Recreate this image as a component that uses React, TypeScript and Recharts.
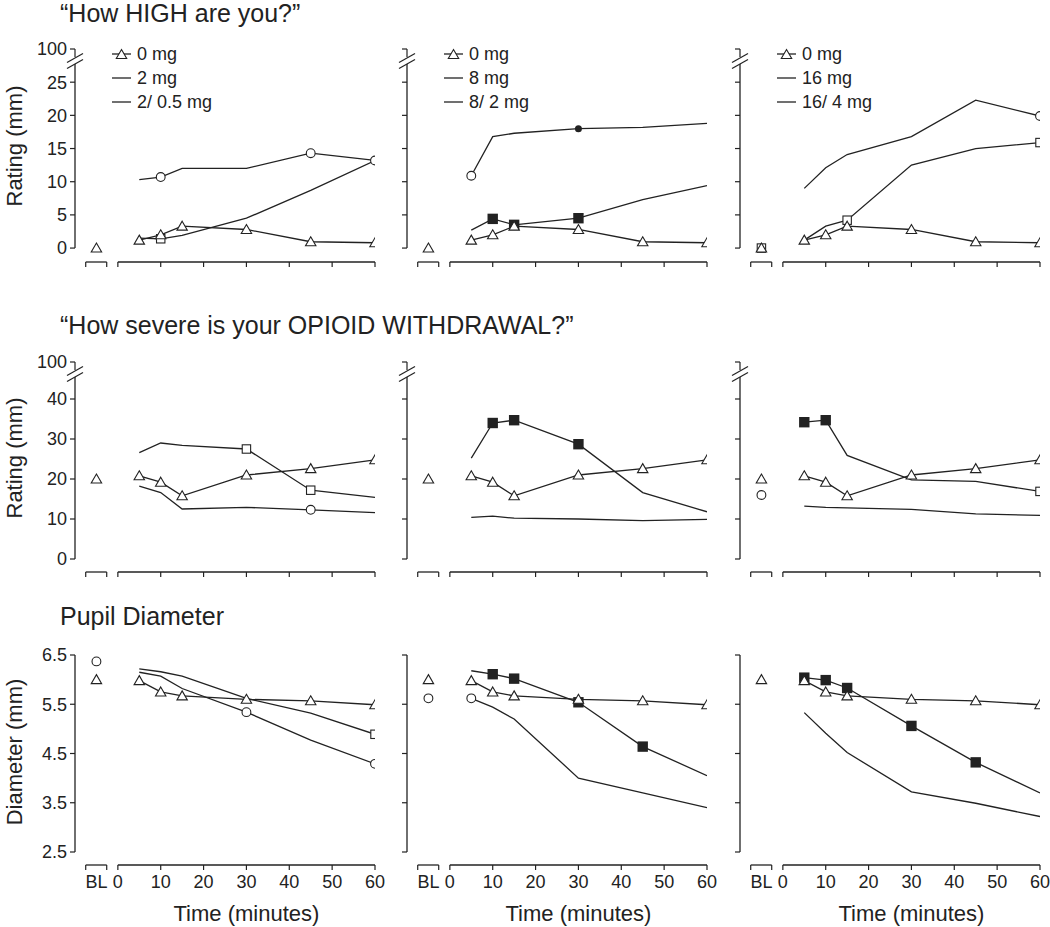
import React from 'react';
import { LineChart, Line, XAxis, YAxis, ReferenceLine, ReferenceDot, Legend } from 'recharts';

const FONT = '"Liberation Sans", Arial, Helvetica, sans-serif';
const INK = '#222';

// minutes after dosing; BL = pre-dose baseline
const times = [5, 10, 15, 30, 45, 60];
const BL = -5;
const xTicks = [-7.5, -5, -2.6, 0, 10, 20, 30, 40, 50, 60];

const monoLabels = ['2 mg', '8 mg', '16 mg'];
const comboLabels = ['2/ 0.5 mg', '8/ 2 mg', '16/ 4 mg'];

// "How HIGH are you?" (mm)
const highPlacebo = [1.2, 2.0, 3.3, 2.8, 0.95, 0.8];
const highMono2 = [10.3, 10.7, 12.0, 12.0, 14.3, 13.2];
const highCombo2 = [1.5, 1.4, 1.9, 4.5, 8.7, 13.2];
const highMono8 = [10.9, 16.8, 17.3, 18.0, 18.2, 18.8];
const highCombo8 = [2.7, 4.4, 3.5, 4.5, 7.3, 9.4];
const highMono16 = [9.0, 12.1, 14.1, 16.8, 22.3, 19.9];
const highCombo16 = [1.2, 3.3, 4.2, 12.5, 15.0, 15.9];
const highMono2Marks = ['', 'o', '', '', 'o', 'o'];
const highCombo2Marks = ['', 's', '', '', '', ''];
const highMono8Marks = ['o', '', '', 'O', '', ''];
const highCombo8Marks = ['', 'S', 'S', 'S', '', ''];
const highMono16Marks = ['', '', '', '', '', 'o'];
const highCombo16Marks = ['', '', 's', '', '', 's'];
const highBLPlacebo = [0, 0, 0];
const highBLMono = [null, null, null];
const highBLCombo = [null, null, 0];

// "How severe is your OPIOID WITHDRAWAL?" (mm)
const wdPlacebo = [20.8, 19.2, 15.8, 21.0, 22.6, 24.8];
const wdMono2 = [18.2, 16.6, 12.5, 12.9, 12.3, 11.6];
const wdCombo2 = [26.6, 29.0, 28.4, 27.5, 17.2, 15.4];
const wdMono8 = [10.4, 10.7, 10.2, 10.0, 9.6, 9.9];
const wdCombo8 = [25.2, 34.0, 34.7, 28.7, 16.6, 11.8];
const wdMono16 = [13.2, 12.9, 12.8, 12.4, 11.3, 10.9];
const wdCombo16 = [34.2, 34.7, 25.9, 19.8, 19.4, 16.9];
const wdMono2Marks = ['', '', '', '', 'o', ''];
const wdCombo2Marks = ['', '', '', 's', 's', ''];
const wdMono8Marks = ['', '', '', '', '', ''];
const wdCombo8Marks = ['', 'S', 'S', 'S', '', ''];
const wdMono16Marks = ['', '', '', '', '', ''];
const wdCombo16Marks = ['S', 'S', '', '', '', 's'];
const wdBLPlacebo = [20, 20, 20];
const wdBLMono = [null, null, 16];
const wdBLCombo = [null, null, null];

// Pupil diameter (mm)
const pupilPlacebo = [5.98, 5.75, 5.67, 5.6, 5.57, 5.49];
const pupilMono2 = [6.15, 6.07, 5.82, 5.34, 4.77, 4.29];
const pupilCombo2 = [6.22, 6.16, 6.07, 5.62, 5.32, 4.89];
const pupilMono8 = [5.62, 5.44, 5.2, 4.0, 3.7, 3.4];
const pupilCombo8 = [6.18, 6.11, 6.02, 5.54, 4.64, 4.05];
const pupilMono16 = [5.33, 4.91, 4.52, 3.72, 3.49, 3.22];
const pupilCombo16 = [6.04, 5.99, 5.83, 5.06, 4.32, 3.7];
const pupilMono2Marks = ['', '', '', 'o', '', 'o'];
const pupilCombo2Marks = ['', '', '', '', '', 's'];
const pupilMono8Marks = ['o', '', '', '', '', ''];
const pupilCombo8Marks = ['', 'S', 'S', 'S', 'S', ''];
const pupilMono16Marks = ['', '', '', '', '', ''];
const pupilCombo16Marks = ['S', 'S', 'S', 'S', 'S', ''];
const pupilBLPlacebo = [6.0, 6.0, 6.0];
const pupilBLMono = [6.37, 5.62, null];
const pupilBLCombo = [null, null, null];

const ROWS = [
  {
    title: '\u201CHow HIGH are you?\u201D', yLabel: 'Rating (mm)', titleY: 22, labelY: 146,
    domain: [-2.1, 30], ticks: [0, 5, 10, 15, 20, 25, 30], topTick: 30, yStart: 0, axisTop: 27.74,
    placebo: highPlacebo, mono: [highMono2, highMono8, highMono16], combo: [highCombo2, highCombo8, highCombo16],
    monoMarks: [highMono2Marks, highMono8Marks, highMono16Marks], comboMarks: [highCombo2Marks, highCombo8Marks, highCombo16Marks],
    blPlacebo: highBLPlacebo, blMono: highBLMono, blCombo: highBLCombo,
  },
  {
    title: '\u201CHow severe is your OPIOID WITHDRAWAL?\u201D', yLabel: 'Rating (mm)', titleY: 334, labelY: 458,
    domain: [-3.25, 49.25], ticks: [0, 10, 20, 30, 40, 49.25], topTick: 49.25, yStart: 0, axisTop: 45.5,
    placebo: wdPlacebo, mono: [wdMono2, wdMono8, wdMono16], combo: [wdCombo2, wdCombo8, wdCombo16],
    monoMarks: [wdMono2Marks, wdMono8Marks, wdMono16Marks], comboMarks: [wdCombo2Marks, wdCombo8Marks, wdCombo16Marks],
    blPlacebo: wdBLPlacebo, blMono: wdBLMono, blCombo: wdBLCombo,
  },
  {
    title: 'Pupil Diameter', yLabel: 'Diameter (mm)', titleY: 625, labelY: 752,
    domain: [2.236, 6.5], ticks: [2.5, 3.5, 4.5, 5.5, 6.5], topTick: null, yStart: 2.5, axisTop: 6.5,
    placebo: pupilPlacebo, mono: [pupilMono2, pupilMono8, pupilMono16], combo: [pupilCombo2, pupilCombo8, pupilCombo16],
    monoMarks: [pupilMono2Marks, pupilMono8Marks, pupilMono16Marks], comboMarks: [pupilCombo2Marks, pupilCombo8Marks, pupilCombo16Marks],
    blPlacebo: pupilBLPlacebo, blMono: pupilBLMono, blCombo: pupilBLCombo,
  },
];

const COL_LEFT = [75, 407, 740];
const ROW_TOP = [49, 362, 655];
const ROW_H = [213, 210, 210];
const PLOT_W = 300;
const Y_W = 40;
const X_H = 45;
const MARGIN = { top: 10, right: 14, bottom: 0, left: 0 };
const LEGEND_KEYS = ['placebo', 'mono', 'combo'];

function Marker({ kind, cx, cy }: any) {
  if (cx == null || cy == null) return <g />;
  switch (kind) {
    case 'tri':
      return <path d={`M${cx},${cy - 5}L${cx + 5.2},${cy + 4}L${cx - 5.2},${cy + 4}Z`} fill="#fff" stroke={INK} strokeWidth={1.1} />;
    case 'o':
      return <circle cx={cx} cy={cy} r={4.4} fill="#fff" stroke={INK} strokeWidth={1.1} />;
    case 'O':
      return <circle cx={cx} cy={cy} r={3.5} fill={INK} />;
    case 's':
      return <rect x={cx - 4.2} y={cy - 4.2} width={8.4} height={8.4} fill="#fff" stroke={INK} strokeWidth={1.1} />;
    case 'S':
      return <rect x={cx - 5.2} y={cy - 5.2} width={10.4} height={10.4} fill={INK} />;
    default:
      return <g />;
  }
}

function buildRows(r: any, col: number) {
  const rows: any[] = [{ t: BL, blPlacebo: r.blPlacebo[col], blMono: r.blMono[col], blCombo: r.blCombo[col] }];
  times.forEach((t, i) => {
    rows.push({
      t,
      placebo: r.placebo[i],
      mono: r.mono[col][i],
      combo: r.combo[col][i],
      monoMark: r.monoMarks[col][i],
      comboMark: r.comboMarks[col][i],
    });
  });
  return rows;
}

function AxisBreak({ cx, cy }: any) {
  return (
    <g stroke={INK} strokeWidth={1.2} fill="none">
      <line x1={cx} y1={cy} x2={cx} y2={cy + 8} />
      <line x1={cx - 8} y1={cy + 13.5} x2={cx + 8} y2={cy + 4.5} />
      <line x1={cx - 8} y1={cy + 19.5} x2={cx + 8} y2={cy + 10.5} />
    </g>
  );
}

function XTick({ x, y, payload, showLabels }: any) {
  const v = payload.value;
  if (v === BL) {
    return showLabels ? (
      <text x={x} y={y + 23} textAnchor="middle" fontSize={18} fill={INK} fontFamily={FONT}>BL</text>
    ) : <g />;
  }
  return (
    <g>
      <line x1={x} y1={y} x2={x} y2={y + 5} stroke={INK} strokeWidth={1.2} />
      {showLabels && v >= 0 && (
        <text x={x} y={y + 23} textAnchor="middle" fontSize={18} fill={INK} fontFamily={FONT}>{v}</text>
      )}
    </g>
  );
}

function renderLegend(props: any) {
  const items = (props.payload || []).filter((item: any) => LEGEND_KEYS.includes(item.dataKey));
  return (
    <div style={{ fontFamily: FONT, fontSize: 18, color: INK, lineHeight: '24px' }}>
      {items.map((item: any, i: number) => (
        <div key={i} style={{ display: 'flex', alignItems: 'center', height: 24, whiteSpace: 'nowrap' }}>
          <svg width={20} height={14} style={{ marginRight: 5 }}>
            <line x1={0} y1={7} x2={19} y2={7} stroke={INK} strokeWidth={1.3} />
            {item.dataKey === 'placebo' && <Marker kind="tri" cx={9.5} cy={7.5} />}
          </svg>
          <span>{item.value}</span>
        </div>
      ))}
    </div>
  );
}

function Panel({ row, col }: { row: number; col: number }) {
  const r: any = ROWS[row];
  const data = buildRows(r, col);
  const plotH = ROW_H[row];
  const width = Y_W + PLOT_W + MARGIN.right;
  const height = MARGIN.top + plotH + X_H;
  const yMin = r.domain[0];
  const markDot = (field: string) => (p: any) => (
    <Marker key={`${field}-${p.index}`} kind={p.payload ? p.payload[field] : ''} cx={p.cx} cy={p.cy} />
  );
  const fixedDot = (kind: string) => (p: any) => (
    <Marker key={`${kind}-${p.index}`} kind={p.value == null ? '' : kind} cx={p.cx} cy={p.cy} />
  );
  const lineProps = { stroke: INK, strokeWidth: 1.3, activeDot: false, isAnimationActive: false, type: 'linear' as const };

  return (
    <div style={{ position: 'absolute', left: COL_LEFT[col] - Y_W, top: ROW_TOP[row] - MARGIN.top }}>
      <LineChart width={width} height={height} data={data} margin={MARGIN}>
        <XAxis
          dataKey="t" type="number" domain={[-10, 60]} ticks={xTicks} interval={0} allowDataOverflow
          axisLine={false} tickLine={false} tickSize={0} tickMargin={0} height={X_H}
          tick={(p: any) => <XTick key={p.index} {...p} showLabels={row === 2} />}
        />
        <YAxis
          type="number" domain={r.domain} ticks={r.ticks} interval={0} allowDataOverflow width={Y_W}
          axisLine={false} tickLine={{ stroke: INK, strokeWidth: 1.2 }} tickSize={5} tickMargin={3}
          tick={{ fontSize: 18, fill: INK, fontFamily: FONT }}
          tickFormatter={(v: number) => (col > 0 ? '' : v === r.topTick ? '100' : String(v))}
        />
        <ReferenceLine segment={[{ x: -10, y: r.yStart }, { x: -10, y: r.axisTop }]} stroke={INK} strokeWidth={1.3} ifOverflow="visible" />
        <ReferenceLine segment={[{ x: -7.5, y: yMin }, { x: -2.6, y: yMin }]} stroke={INK} strokeWidth={1.3} ifOverflow="visible" />
        <ReferenceLine segment={[{ x: 0, y: yMin }, { x: 60, y: yMin }]} stroke={INK} strokeWidth={1.3} ifOverflow="visible" />
        {r.topTick != null && (
          <ReferenceDot x={-10} y={r.topTick} r={0} ifOverflow="visible" shape={(p: any) => <AxisBreak cx={p.cx} cy={p.cy} />} />
        )}
        <Line dataKey="mono" name={monoLabels[col]} {...lineProps} dot={markDot('monoMark')} />
        <Line dataKey="combo" name={comboLabels[col]} {...lineProps} dot={markDot('comboMark')} />
        <Line dataKey="placebo" name="0 mg" {...lineProps} dot={fixedDot('tri')} />
        <Line dataKey="blCombo" {...lineProps} stroke="none" legendType="none" dot={fixedDot('s')} />
        <Line dataKey="blMono" {...lineProps} stroke="none" legendType="none" dot={fixedDot('o')} />
        <Line dataKey="blPlacebo" {...lineProps} stroke="none" legendType="none" dot={fixedDot('tri')} />
        {row === 0 && (
          <Legend
            layout="vertical" align="center" verticalAlign="middle"
            itemSorter="value"
            wrapperStyle={{ top: 3, left: Y_W + 37, width: 'auto' }}
            content={renderLegend}
          />
        )}
      </LineChart>
    </div>
  );
}

export default function App() {
  const timeCenters = COL_LEFT.map((l) => l + (40 / 70) * PLOT_W);
  return (
    <div style={{ position: 'absolute', left: 0, top: 0, width: 1050, height: 927, background: '#fff', fontFamily: FONT }}>
      <svg width={1050} height={927} style={{ position: 'absolute', left: 0, top: 0 }}>
        {ROWS.map((r, i) => (
          <g key={i} fill={INK} fontFamily={FONT}>
            <text x={60} y={r.titleY} fontSize={25}>{r.title}</text>
            <text
              x={14} y={r.labelY} fontSize={22} textAnchor="middle" dominantBaseline="central"
              transform={`rotate(-90, 14, ${r.labelY})`}
            >
              {r.yLabel}
            </text>
          </g>
        ))}
        {timeCenters.map((cx, i) => (
          <text key={i} x={cx} y={921} fontSize={22} textAnchor="middle" fill={INK} fontFamily={FONT}>
            Time (minutes)
          </text>
        ))}
      </svg>
      {[0, 1, 2].map((row) => [0, 1, 2].map((col) => <Panel key={`${row}-${col}`} row={row} col={col} />))}
    </div>
  );
}
